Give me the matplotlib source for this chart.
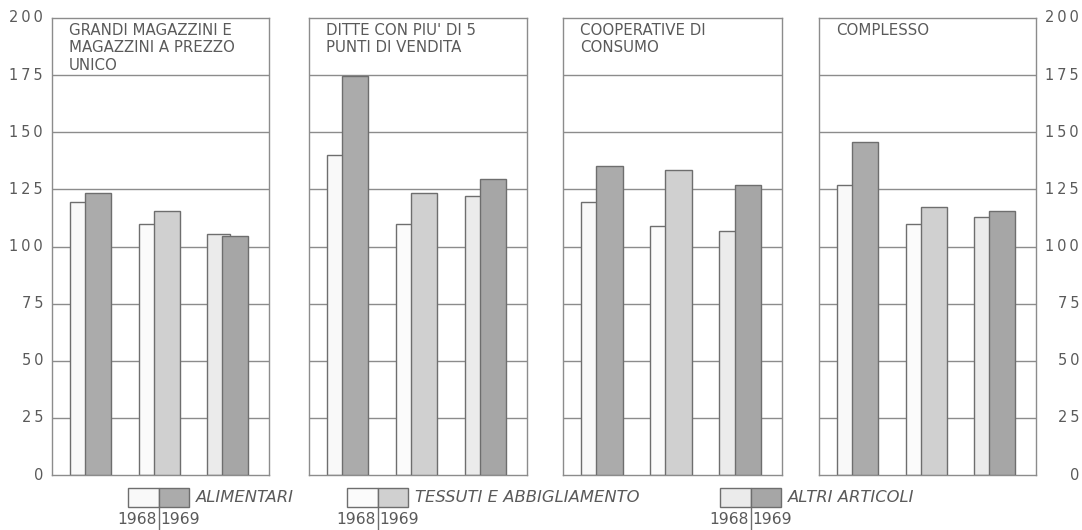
import matplotlib
matplotlib.use("Agg")
import matplotlib.pyplot as plt
from matplotlib.patches import Rectangle
from matplotlib.lines import Line2D
import numpy as np

# ---------------- data ----------------
panel_titles = ["GRANDI MAGAZZINI E\nMAGAZZINI A PREZZO\nUNICO",
                "DITTE CON PIU' DI 5\nPUNTI DI VENDITA",
                "COOPERATIVE DI\nCONSUMO",
                "COMPLESSO"]
categories = ["ALIMENTARI", "TESSUTI E ABBIGLIAMENTO", "ALTRI ARTICOLI"]
years = ["1968", "1969"]

grandi_1968 = [119.4, 109.8, 105.6]
grandi_1969 = [123.5, 115.4, 104.4]
ditte_1968 = [140.0, 109.8, 122.1]
ditte_1969 = [174.6, 123.2, 129.4]
coop_1968 = [119.3, 109.1, 106.9]
coop_1969 = [135.1, 133.6, 126.8]
compl_1968 = [126.9, 110.0, 112.7]
compl_1969 = [145.8, 117.5, 115.4]

yticks = [0, 25, 50, 75, 100, 125, 150, 175, 200]

values_1968 = [grandi_1968, ditte_1968, coop_1968, compl_1968]
values_1969 = [grandi_1969, ditte_1969, coop_1969, compl_1969]

# ---------------- style ----------------
col_1968 = ["#f9f9f9", "#fbfbfb", "#ebebeb"]
col_1969 = ["#ababab", "#d0d0d0", "#a6a6a6"]
edge = "#6e6e6e"
linec = "#8c8c8c"
textc = "#5a5a5a"

W, H = 1082, 530
fig = plt.figure(figsize=(W / 100, H / 100), dpi=100)
fig.patch.set_facecolor("white")


def fx(x):
    return x / W


def fy(y):
    return 1 - y / H


panel_x = [(52, 269), (309, 527), (563, 782), (819, 1036)]
top_px, bot_px = 18, 475

x = np.arange(3)
axes = []
for i, (l, r) in enumerate(panel_x):
    ax = fig.add_axes([fx(l), fy(bot_px), (r - l) / W, (bot_px - top_px) / H])
    ax.set_ylim(0, 200)
    ax.set_xlim(-0.482, 2.686)
    for yt in yticks[1:-1]:
        ax.axhline(yt, color=linec, lw=1.0, zorder=1)
    ax.bar(x - 0.219, values_1968[i], width=0.33, align="edge",
           color=col_1968, edgecolor=edge, linewidth=1.0, zorder=2)
    ax.bar(x, values_1969[i], width=0.38, align="edge",
           color=col_1969, edgecolor=edge, linewidth=1.0, zorder=3)
    for s in ax.spines.values():
        s.set_color(linec)
        s.set_linewidth(1.0)
    ax.set_xticks([])
    ax.set_yticks([])
    ax.text(17 / (r - l), 1 - 5 / (bot_px - top_px), panel_titles[i],
            transform=ax.transAxes, ha="left", va="top", fontsize=10.8,
            color=textc, linespacing=1.2, zorder=5)
    axes.append(ax)

# y tick labels on both sides
for yt in yticks:
    lab = "\u2009".join(str(yt))
    axes[0].annotate(lab, xy=(0, yt), xycoords=("axes fraction", "data"),
                     xytext=(-9, 0), textcoords="offset pixels",
                     ha="right", va="center", fontsize=10.5, color=textc,
                     annotation_clip=False)
    axes[-1].annotate(lab, xy=(1, yt), xycoords=("axes fraction", "data"),
                      xytext=(43, 0), textcoords="offset pixels",
                      ha="right", va="center", fontsize=10.5, color=textc,
                      annotation_clip=False)

# legend
legend_left = [128, 347, 720]
box_w, box_top, box_bot = 30.5, 488, 507
for k, cat in enumerate(categories):
    lx = legend_left[k]
    fig.patches.append(Rectangle((fx(lx), fy(box_bot)), box_w / W,
                                 (box_bot - box_top) / H, transform=fig.transFigure,
                                 facecolor=col_1968[k], edgecolor=edge, lw=1.0))
    fig.patches.append(Rectangle((fx(lx + box_w), fy(box_bot)), box_w / W,
                                 (box_bot - box_top) / H, transform=fig.transFigure,
                                 facecolor=col_1969[k], edgecolor=edge, lw=1.0))
    fig.lines.append(Line2D([fx(lx + box_w)] * 2, [fy(box_bot), fy(530)],
                            transform=fig.transFigure, color=edge, lw=1.0))
    fig.text(fx(lx + 2 * box_w + 7), fy((box_top + box_bot) / 2), cat,
             ha="left", va="center", fontsize=11.8, style="italic", color=textc)
    fig.text(fx(lx + box_w - 2), fy(519), years[0], ha="right", va="center",
             fontsize=11.2, color=textc)
    fig.text(fx(lx + box_w + 2), fy(519), years[1], ha="left", va="center",
             fontsize=11.2, color=textc)

fig.savefig("out.png", dpi=100, facecolor="white")
